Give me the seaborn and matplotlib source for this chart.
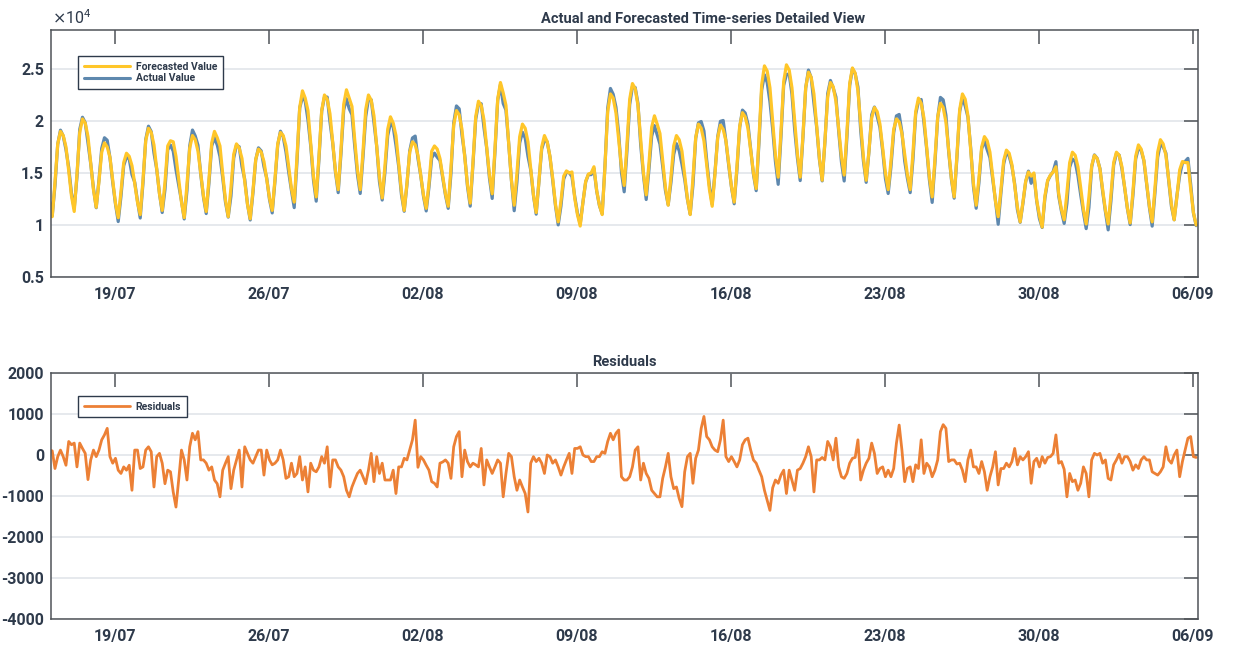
import numpy as np
import pandas as pd
import matplotlib
matplotlib.use("Agg")
import matplotlib.pyplot as plt
import matplotlib.dates as mdates
from matplotlib.lines import Line2D
import seaborn as sns

# ---------------- data (3-hourly samples, 01h,04h,...,22h per day) ----------------
start_time = "2020-07-16 01:00"
sample_step = "3h"

# forecasted value, in units of 10^4
forecast_e4 = [
    1.22, 1.08, 1.41, 1.78, 1.90, 1.86, 1.75, 1.52,
    1.28, 1.13, 1.49, 1.89, 2.02, 1.98, 1.85, 1.60,
    1.34, 1.17, 1.42, 1.70, 1.79, 1.75, 1.65, 1.43,
    1.21, 1.07, 1.32, 1.60, 1.69, 1.66, 1.57, 1.40,
    1.22, 1.10, 1.43, 1.81, 1.93, 1.89, 1.77, 1.54,
    1.30, 1.14, 1.41, 1.76, 1.81, 1.80, 1.66, 1.44,
    1.22, 1.07, 1.39, 1.74, 1.86, 1.82, 1.71, 1.50,
    1.28, 1.13, 1.44, 1.79, 1.90, 1.84, 1.76, 1.49,
    1.24, 1.08, 1.36, 1.68, 1.78, 1.74, 1.64, 1.42,
    1.20, 1.06, 1.33, 1.63, 1.73, 1.70, 1.61, 1.44,
    1.26, 1.14, 1.44, 1.78, 1.89, 1.86, 1.76, 1.56,
    1.35, 1.22, 1.65, 2.13, 2.29, 2.22, 2.10, 1.78,
    1.47, 1.27, 1.66, 2.10, 2.25, 2.21, 2.07, 1.80,
    1.52, 1.34, 1.72, 2.16, 2.30, 2.22, 2.14, 1.82,
    1.53, 1.34, 1.70, 2.11, 2.25, 2.20, 2.05, 1.76,
    1.46, 1.26, 1.57, 1.92, 2.04, 1.98, 1.86, 1.59,
    1.32, 1.14, 1.40, 1.70, 1.80, 1.77, 1.67, 1.48,
    1.29, 1.16, 1.40, 1.71, 1.76, 1.73, 1.64, 1.47,
    1.30, 1.18, 1.55, 1.96, 2.10, 2.06, 1.92, 1.66,
    1.39, 1.21, 1.60, 2.04, 2.19, 2.15, 2.01, 1.75,
    1.48, 1.30, 1.73, 2.21, 2.37, 2.27, 2.15, 1.78,
    1.43, 1.19, 1.50, 1.85, 1.97, 1.93, 1.80, 1.55,
    1.29, 1.12, 1.42, 1.75, 1.86, 1.80, 1.66, 1.45,
    1.20, 1.03, 1.23, 1.47, 1.52, 1.50, 1.51, 1.26,
    1.10, 0.99, 1.22, 1.42, 1.49, 1.50, 1.56, 1.33,
    1.19, 1.10, 1.56, 2.09, 2.26, 2.22, 2.08, 1.82,
    1.56, 1.38, 1.77, 2.21, 2.36, 2.31, 2.15, 1.83,
    1.50, 1.29, 1.59, 1.94, 2.05, 1.97, 1.88, 1.62,
    1.36, 1.19, 1.46, 1.76, 1.86, 1.82, 1.71, 1.48,
    1.25, 1.10, 1.45, 1.84, 1.97, 1.93, 1.81, 1.58,
    1.34, 1.18, 1.49, 1.84, 1.96, 1.92, 1.81, 1.59,
    1.37, 1.22, 1.56, 1.95, 2.08, 2.04, 1.93, 1.72,
    1.50, 1.35, 1.82, 2.35, 2.53, 2.48, 2.32, 2.00,
    1.67, 1.46, 1.89, 2.38, 2.54, 2.49, 2.32, 2.00,
    1.68, 1.46, 1.86, 2.32, 2.47, 2.42, 2.26, 1.95,
    1.64, 1.43, 1.81, 2.23, 2.37, 2.33, 2.19, 1.93,
    1.66, 1.48, 1.89, 2.36, 2.51, 2.46, 2.29, 1.97,
    1.65, 1.43, 1.71, 2.03, 2.13, 2.09, 1.97, 1.74,
    1.50, 1.34, 1.61, 1.92, 2.02, 1.99, 1.88, 1.68,
    1.48, 1.34, 1.69, 2.09, 2.22, 2.17, 2.03, 1.75,
    1.46, 1.27, 1.63, 2.04, 2.17, 2.13, 1.99, 1.72,
    1.45, 1.27, 1.67, 2.11, 2.26, 2.21, 2.05, 1.73,
    1.40, 1.19, 1.45, 1.75, 1.85, 1.81, 1.70, 1.47,
    1.23, 1.08, 1.34, 1.62, 1.72, 1.69, 1.58, 1.38,
    1.17, 1.03, 1.22, 1.42, 1.51, 1.47, 1.50, 1.24,
    1.09, 0.98, 1.28, 1.43, 1.48, 1.51, 1.56, 1.30,
    1.15, 1.05, 1.31, 1.60, 1.70, 1.67, 1.56, 1.36,
    1.15, 1.01, 1.27, 1.57, 1.67, 1.64, 1.54, 1.34,
    1.14, 1.01, 1.29, 1.60, 1.70, 1.67, 1.56, 1.36,
    1.16, 1.02, 1.32, 1.66, 1.77, 1.73, 1.62, 1.40,
    1.18, 1.03, 1.35, 1.70, 1.82, 1.78, 1.67, 1.44,
    1.20, 1.05, 1.27, 1.53, 1.61, 1.60, 1.60, 1.35,
    1.12, 1.00,
]

# residuals = actual - forecast
residuals = [
    120, 100, -330, -40, 120, -40, -250, 330,
    250, 290, -290, 290, 160, 40, -600, -120,
    120, -40, 120, 370, 490, 650, -40, -200,
    -80, -370, -450, -290, -370, -250, -860, 120,
    120, -330, -290, 120, 200, 80, -780, -40,
    40, -200, -700, -370, -410, -900, -1270, -600,
    120, -120, -610, 200, 530, 370, 570, -120,
    -120, -200, -370, -290, -610, -700, -1020, -370,
    -200, -40, -820, -370, -120, 120, -780, 200,
    40, -120, -200, -40, 120, 120, -490, 120,
    -120, -240, -200, -120, 120, -120, -570, -530,
    -200, -530, -450, -40, -610, -290, -900, -200,
    -370, -410, -290, -40, -200, 200, -780, -120,
    -120, -290, -370, -530, -860, -1020, -780, -610,
    -450, -370, -530, -700, -370, 40, -650, -40,
    -450, -200, -610, -610, -610, -370, -940, -290,
    -290, -80, -120, 120, 370, 850, -300, -40,
    -120, -250, -370, -650, -690, -780, -200, -170,
    -120, -200, -570, 200, 450, 570, -530, 120,
    -160, -290, -200, -240, -290, 160, -730, -120,
    -290, -450, -290, -120, -200, -1020, -450, 40,
    -40, -530, -860, -610, -780, -940, -1390, -200,
    -40, -160, -80, -200, -450, 0, -40, -200,
    -120, -290, -490, -290, -120, 40, -450, 160,
    160, 200, 0, -40, -40, -160, -160, -40,
    -40, 80, 40, 330, 530, 370, 530, 610,
    -530, -610, -610, -530, -290, 120, 200, -610,
    -200, -450, -570, -860, -940, -1020, -1020, -570,
    -290, 40, -530, -820, -780, -1060, -1260, -410,
    -40, 40, -690, -80, 120, 650, 940, 450,
    370, 200, 120, 80, 370, 850, -40, -160,
    -40, -160, -290, -120, 250, 370, 410, 120,
    -120, -200, -370, -530, -860, -1100, -1350, -800,
    -610, -690, -490, -370, -940, -370, -610, -860,
    -370, -330, -200, -40, 200, -40, -900, -120,
    -120, -60, -120, 330, 200, -120, 410, -290,
    -530, -570, -450, -200, -80, -60, 370, -610,
    -370, -200, -80, 290, 40, -450, -330, -290,
    -530, -370, -530, -330, 290, 730, 120, -650,
    -330, -290, -650, -240, -330, 370, -450, -200,
    -290, -530, -370, -120, 570, 740, 650, -160,
    -120, -120, -220, -200, -370, -650, -120, 120,
    -290, -290, -450, -160, -410, -860, -530, -290,
    80, -730, -330, -330, -200, -290, -160, 160,
    -240, -40, -120, -40, 80, -690, -160, -80,
    -290, -40, -200, -60, -40, 40, 490, -200,
    -160, -350, -1020, -450, -650, -610, -860, -690,
    -290, -450, -1020, -120, 40, 0, 40, -200,
    -120, -570, -610, -240, -120, 20, -200, -40,
    -40, -160, -370, -240, -330, -120, -40, -120,
    -120, -410, -450, -490, -410, -290, 200, -120,
    -200, 0, 120, -530, -160, 120, 410, 450,
    -40, -60,
]

x_tick_dates = ["2020-07-19", "2020-07-26", "2020-08-02", "2020-08-09",
                "2020-08-16", "2020-08-23", "2020-08-30", "2020-09-06"]
top_yticks = [0.5, 1, 1.5, 2, 2.5]
top_yticklabels = ["0.5", "1", "1.5", "2", "2.5"]
bottom_yticks = [-4000, -3000, -2000, -1000, 0, 1000, 2000]
bottom_yticklabels = ["-4000", "-3000", "-2000", "-1000", "0", "1000", "2000"]

top_title = "Actual and Forecasted Time-series Detailed View"
bottom_title = "Residuals"

# ---------------- build frame ----------------
assert len(forecast_e4) == len(residuals)
times = pd.date_range(start_time, periods=len(forecast_e4), freq=sample_step)
forecast = np.array(forecast_e4) * 1e4
resid = np.array(residuals, dtype=float)
actual = forecast + resid
df = pd.DataFrame({
    "time": times,
    "forecast_e4": forecast / 1e4,
    "actual_e4": actual / 1e4,
    "residual": resid,
})

# ---------------- style ----------------
sns.set_theme(style="white")
plt.rcParams["font.family"] = ["Roboto", "DejaVu Sans"]
plt.rcParams["axes.unicode_minus"] = False

TXT = "#2E3A4B"
SPINE = "#4F5358"
GRID = "#E1E5EA"
C_FORE = "#FFC629"
C_ACT = "#5E88AE"
C_RES = "#EC8035"

fig = plt.figure(figsize=(12.34, 6.46), dpi=100)
ax1 = fig.add_axes([51 / 1234, 1 - 277 / 646, 1147 / 1234, 247 / 646])
ax2 = fig.add_axes([51 / 1234, 1 - 619 / 646, 1147 / 1234, 246 / 646])

xlim = (pd.Timestamp("2020-07-16 02:40"), pd.Timestamp("2020-09-06 06:00"))

sns.lineplot(data=df, x="time", y="actual_e4", ax=ax1, color=C_ACT,
             linewidth=2.3, sort=False, estimator=None)
sns.lineplot(data=df, x="time", y="forecast_e4", ax=ax1, color=C_FORE,
             linewidth=2.3, sort=False, estimator=None)
sns.lineplot(data=df, x="time", y="residual", ax=ax2, color=C_RES,
             linewidth=2.0, sort=False, estimator=None)

ticks = pd.to_datetime(x_tick_dates)
for ax, yt, ytl, ylim in [
    (ax1, top_yticks, top_yticklabels, (0.5, 2.875)),
    (ax2, bottom_yticks, bottom_yticklabels, (-4000, 2000)),
]:
    ax.set_xlim(*xlim)
    ax.set_ylim(*ylim)
    ax.set_xticks(ticks)
    ax.xaxis.set_major_formatter(mdates.DateFormatter("%d/%m"))
    ax.set_yticks(yt)
    ax.set_yticklabels(ytl)
    ax.set_xlabel("")
    ax.set_ylabel("")
    ax.grid(axis="y", color=GRID, linewidth=1.2)
    ax.grid(axis="x", visible=False)
    ax.set_axisbelow(True)
    for sp in ax.spines.values():
        sp.set_visible(True)
        sp.set_color(SPINE)
        sp.set_linewidth(1.1)
    ax.tick_params(axis="both", which="major", direction="in", length=10,
                   width=1.1, color=SPINE, top=True, right=True,
                   labeltop=False, labelright=False, labelcolor=TXT,
                   labelsize=11.5)
    ax.tick_params(axis="x", pad=7)
    ax.tick_params(axis="y", pad=5)
    for lab in ax.get_xticklabels() + ax.get_yticklabels():
        lab.set_fontweight("bold")

ax1.set_title(top_title, fontsize=10.5, fontweight="bold", color=TXT, pad=5,
              x=(703.5 - 51) / 1147)
ax2.set_title(bottom_title, fontsize=10.5, fontweight="bold", color=TXT, pad=5)

fig.text(52 / 1234, 1 - 24 / 646, r"$\times\mathregular{10^{4}}$",
         fontsize=11.5, color=TXT, ha="left", va="baseline")

leg_kw = dict(loc="upper left", frameon=True, fancybox=False, framealpha=1,
              edgecolor=TXT, borderaxespad=0, handlelength=4.4,
              handletextpad=0.6, borderpad=0.55, labelspacing=0.15,
              prop={"weight": "bold", "size": 7.5})
h1 = [Line2D([], [], color=C_FORE, lw=2.2), Line2D([], [], color=C_ACT, lw=2.2)]
lg1 = ax1.legend(h1, ["Forecasted Value", "Actual Value"],
                 bbox_to_anchor=(27 / 1147, 1 - 26 / 247), **leg_kw)
lg1.get_frame().set_linewidth(1.0)
for t in lg1.get_texts():
    t.set_color(TXT)
h2 = [Line2D([], [], color=C_RES, lw=2.0)]
lg2 = ax2.legend(h2, ["Residuals"], bbox_to_anchor=(27 / 1147, 1 - 23 / 246),
                 **leg_kw)
lg2.get_frame().set_linewidth(1.0)
for t in lg2.get_texts():
    t.set_color(TXT)

fig.savefig("out.png", dpi=100)
